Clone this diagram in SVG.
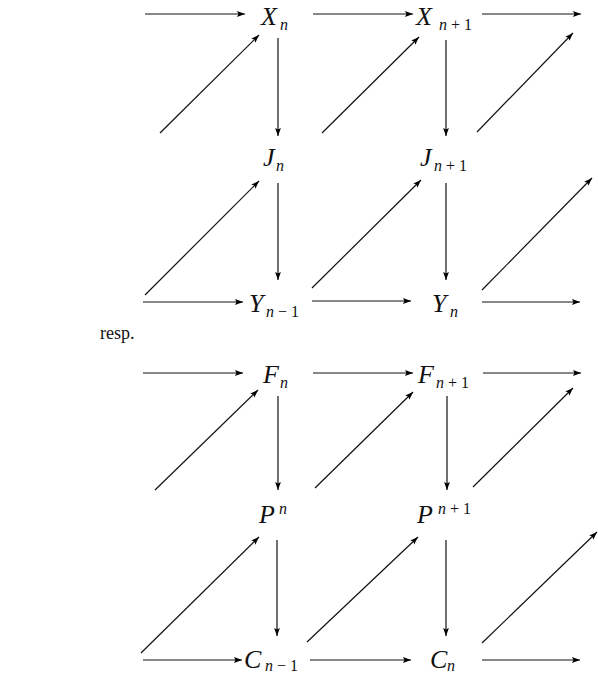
<svg xmlns="http://www.w3.org/2000/svg" width="598" height="676" viewBox="0 0 598 676">
<defs>
<marker id="ah" markerUnits="userSpaceOnUse" markerWidth="9" markerHeight="7" refX="8" refY="3.5" orient="auto">
<path d="M0,0.6 L8,3.5 L0,6.4 L1.5,3.5 z" fill="#000"/>
</marker>
<style>
.c line{stroke:#111;stroke-width:1.2;marker-end:url(#ah);fill:none}
.m{font-family:"Liberation Serif","Times New Roman",serif;font-style:italic;font-size:26px;fill:#111}
.s{font-family:"Liberation Serif","Times New Roman",serif;font-style:italic;font-size:16px;fill:#111}
.r{font-style:normal}
.t{font-family:"Liberation Serif","Times New Roman",serif;font-size:18px;fill:#111}
</style>
</defs>
<rect width="598" height="676" fill="#fff"/>
<g class="c" id="connectors">
<line x1="145" y1="14" x2="245" y2="14"/>
<line x1="313" y1="14" x2="413" y2="14"/>
<line x1="482" y1="14" x2="581" y2="14"/>
<line x1="160" y1="133" x2="259" y2="35"/>
<line x1="322" y1="133" x2="419" y2="37"/>
<line x1="477" y1="132" x2="573" y2="33"/>
<line x1="278" y1="38" x2="278" y2="136"/>
<line x1="446" y1="40" x2="446" y2="136"/>
<line x1="145" y1="295" x2="259" y2="181"/>
<line x1="312" y1="288" x2="421" y2="180"/>
<line x1="482" y1="290" x2="592" y2="178"/>
<line x1="278" y1="183" x2="278" y2="280"/>
<line x1="446" y1="183" x2="446" y2="280"/>
<line x1="143" y1="302" x2="243" y2="302"/>
<line x1="312" y1="301" x2="411" y2="301"/>
<line x1="482" y1="302" x2="580" y2="302"/>
<line x1="143" y1="373" x2="243" y2="373"/>
<line x1="313" y1="373" x2="413" y2="373"/>
<line x1="483" y1="373" x2="581" y2="373"/>
<line x1="155" y1="490" x2="258" y2="390"/>
<line x1="315" y1="488" x2="413" y2="392"/>
<line x1="473" y1="487" x2="573" y2="388"/>
<line x1="278" y1="396" x2="278" y2="490"/>
<line x1="447" y1="396" x2="447" y2="490"/>
<line x1="141" y1="653" x2="259" y2="537"/>
<line x1="307" y1="642" x2="418" y2="537"/>
<line x1="482" y1="643" x2="597" y2="532"/>
<line x1="277" y1="540" x2="277" y2="636"/>
<line x1="446" y1="540" x2="446" y2="636"/>
<line x1="143" y1="660" x2="242" y2="660"/>
<line x1="310" y1="660" x2="411" y2="660"/>
<line x1="482" y1="660" x2="580" y2="660"/>
</g>
<g id="Xn"><text class="m" x="261" y="25">X</text><text class="s" x="280" y="30">n</text></g>
<g id="Xn1"><text class="m" x="416" y="25">X</text><text class="s" x="439" y="30">n <tspan class="r">+ 1</tspan></text></g>
<g id="Jn"><text class="m" x="263" y="166">J</text><text class="s" x="276" y="171">n</text></g>
<g id="Jn1"><text class="m" x="420" y="166">J</text><text class="s" x="434" y="171">n <tspan class="r">+ 1</tspan></text></g>
<g id="Yn-1"><text class="m" x="249" y="312">Y</text><text class="s" x="266" y="317">n <tspan class="r">− 1</tspan></text></g>
<g id="Yn"><text class="m" x="432" y="312">Y</text><text class="s" x="450" y="317">n</text></g>
<g id="resp"><text class="t" x="100" y="339">resp.</text></g>
<g id="Fn"><text class="m" x="263" y="383">F</text><text class="s" x="280" y="388">n</text></g>
<g id="Fn1"><text class="m" x="418" y="383">F</text><text class="s" x="436" y="388">n <tspan class="r">+ 1</tspan></text></g>
<g id="Pn"><text class="m" x="259" y="523">P</text><text class="s" x="279" y="514">n</text></g>
<g id="Pn1"><text class="m" x="417" y="523">P</text><text class="s" x="438" y="514">n <tspan class="r">+ 1</tspan></text></g>
<g id="Cn-1"><text class="m" x="244" y="668">C</text><text class="s" x="265" y="671">n <tspan class="r">− 1</tspan></text></g>
<g id="Cn"><text class="m" x="430" y="668">C</text><text class="s" x="447" y="671">n</text></g>
</svg>
